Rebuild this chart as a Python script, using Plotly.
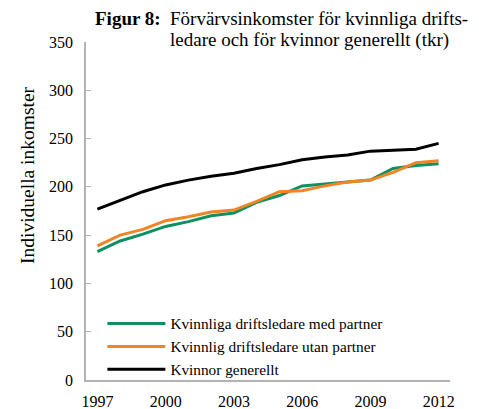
import plotly.graph_objects as go

years = list(range(1997, 2013))
med_partner = [133, 144, 151, 159, 164, 170, 173, 184, 191, 201, 203, 205, 207, 219, 222, 224]
utan_partner = [139, 150, 156, 165, 169, 174, 176, 185, 195, 196, 201, 205, 207, 215, 225, 227]
generellt = [177, 186, 195, 202, 207, 211, 214, 219, 223, 228, 231, 233, 237, 238, 239, 245]

names = ["Kvinnliga driftsledare med partner",
         "Kvinnlig driftsledare utan partner",
         "Kvinnor generellt"]
colors = ["#0f9060", "#f08526", "#000000"]
x_ticks = [1997, 2000, 2003, 2006, 2009, 2012]

FONT = "Liberation Serif, Times New Roman, serif"

# the page body adds an 8px margin, so the figure is 8px smaller and shifted
fig = go.Figure()
for vals, name, color in zip([med_partner, utan_partner, generellt], names, colors):
    fig.add_trace(go.Scatter(x=years, y=vals, name=name, mode="lines",
                             line=dict(color=color, width=3)))

fig.update_layout(
    width=471, height=401,
    margin=dict(l=78, r=29, t=34, b=29, autoexpand=False),
    plot_bgcolor="white", paper_bgcolor="white",
    font=dict(family=FONT, size=16, color="black"),
    showlegend=True,
    legend=dict(x=0.045, y=-0.018, xanchor="left", yanchor="bottom",
                font=dict(size=15.3, family=FONT, color="black"),
                bgcolor="rgba(0,0,0,0)", itemwidth=58, tracegroupgap=0),
    xaxis=dict(range=[1996.5, 2012.5], tickvals=x_ticks, showgrid=False,
               showline=True, linecolor="#b3b3b3", linewidth=1.5,
               ticks="", zeroline=False, ticklabelstandoff=6,
               tickfont=dict(family=FONT, size=16)),
    yaxis=dict(range=[0, 350], dtick=50, showgrid=False,
               showline=True, linecolor="#b3b3b3", linewidth=1.5,
               ticks="inside", ticklen=5, tickcolor="#b3b3b3",
               zeroline=False, ticklabelstandoff=8,
               tickfont=dict(family=FONT, size=16)),
)

W, H = 364, 338
fig.add_annotation(text="<b>Figur 8:</b>", xref="paper", yref="paper",
                   x=(163 - 86) / W, y=(380 - 19) / H,
                   xanchor="right", yanchor="middle", showarrow=False,
                   font=dict(size=19, family=FONT, color="black"))
fig.add_annotation(text="Förvärvsinkomster för kvinnliga drifts-",
                   xref="paper", yref="paper",
                   x=(168 - 86) / W, y=(380 - 19) / H,
                   xanchor="left", yanchor="middle", align="left",
                   showarrow=False, font=dict(size=19, family=FONT, color="black"))
fig.add_annotation(text="ledare och för kvinnor generellt (tkr)",
                   xref="paper", yref="paper",
                   x=(168 - 86) / W, y=(380 - 40) / H,
                   xanchor="left", yanchor="middle", align="left",
                   showarrow=False, font=dict(size=19, family=FONT, color="black"))
fig.add_annotation(text="Individuella inkomster", xref="paper", yref="paper",
                   x=-(86 - 27) / W, y=(380 - 175) / H, textangle=-90,
                   xanchor="center", yanchor="middle", showarrow=False,
                   font=dict(size=19.5, family=FONT, color="black"))

fig.write_html("out.html")
